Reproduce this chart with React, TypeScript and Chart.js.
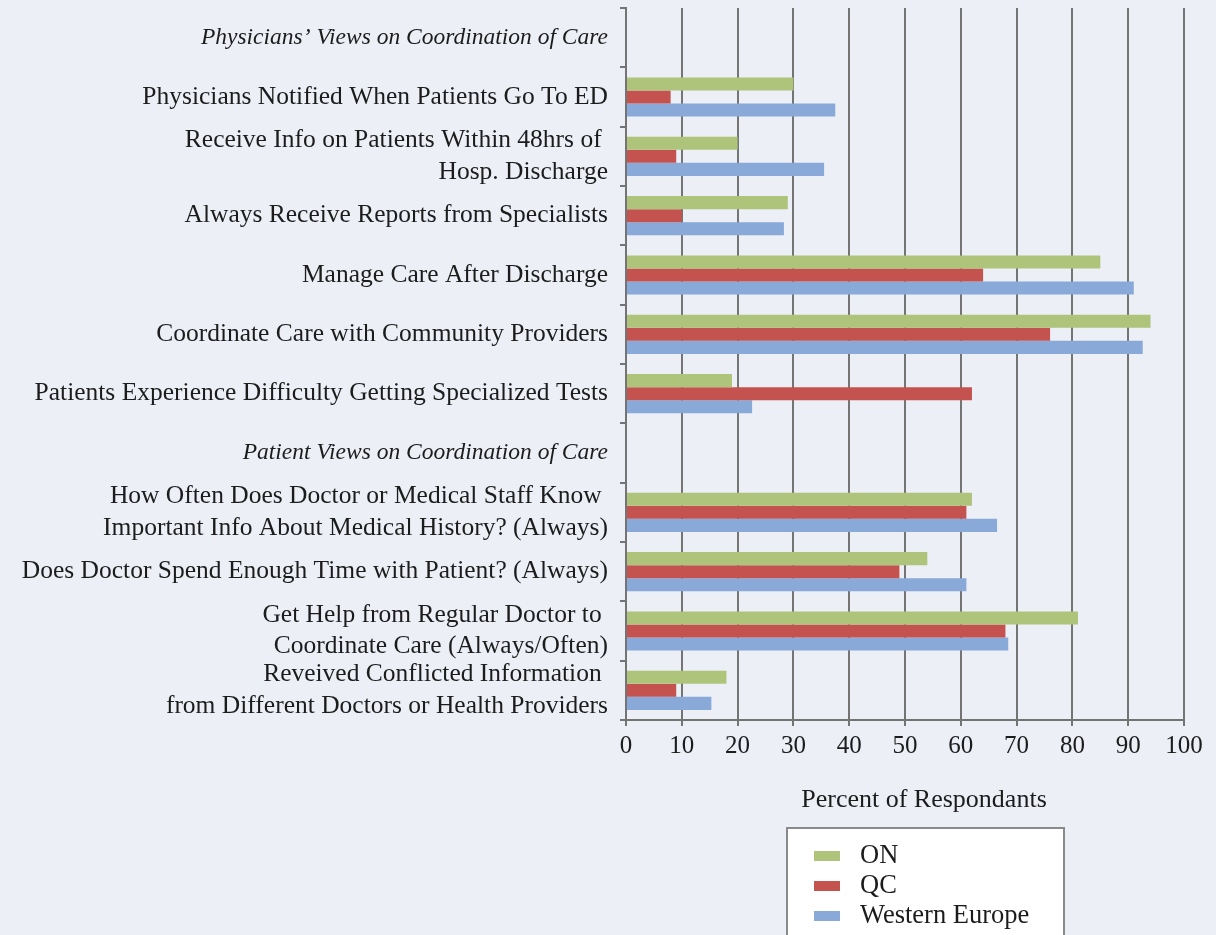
import React, { useEffect, useRef } from "react";
import { Chart, registerables } from "chart.js";

Chart.register(...registerables);

const categories: (string | string[])[] = [
  "Physicians’ Views on Coordination of Care",
  "Physicians Notified When Patients Go To ED",
  ["Receive Info on Patients Within 48hrs of ", "Hosp. Discharge"],
  "Always Receive Reports from Specialists",
  "Manage Care After Discharge",
  "Coordinate Care with Community Providers",
  "Patients Experience Difficulty Getting Specialized Tests",
  "Patient Views on Coordination of Care",
  ["How Often Does Doctor or Medical Staff Know ", "Important Info About Medical History? (Always)"],
  "Does Doctor Spend Enough Time with Patient? (Always)",
  ["Get Help from Regular Doctor to ", "Coordinate Care (Always/Often)"],
  ["Reveived Conflicted Information ", "from Different Doctors or Health Providers"],
];
const headerRows = [0, 7];

const seriesNames = ["ON", "QC", "Western Europe"];
const onValues = [null, 30, 20, 29, 85, 94, 19, null, 62, 54, 81, 18];
const qcValues = [null, 8, 9, 10, 64, 76, 62, null, 61, 49, 68, 9];
const weValues = [null, 37.5, 35.5, 28.3, 91, 92.6, 22.6, null, 66.5, 61, 68.5, 15.3];
const seriesColors = ["#aec47a", "#c4534f", "#89a9d8"];

const xMin = 0;
const xMax = 100;
const xStep = 10;
const axisTitle = "Percent of Respondants";

const FONT = "'Liberation Serif', 'DejaVu Serif', serif";
const TEXT = "#1c1c1c";
const GRID = "#747474";
const BG = "#eceff6";

const overlayPlugin = {
  id: "overlay",
  afterDraw(chart: any) {
    const ctx = chart.ctx;
    ctx.save();
    // axis title
    ctx.fillStyle = TEXT;
    ctx.font = `26px ${FONT}`;
    ctx.textAlign = "center";
    ctx.textBaseline = "middle";
    ctx.fillText(axisTitle, 924, 800);
    // legend box
    ctx.fillStyle = "#ffffff";
    ctx.fillRect(787, 828, 277, 120);
    ctx.strokeStyle = "#8a8a8a";
    ctx.lineWidth = 2;
    ctx.strokeRect(787, 828, 277, 120);
    const rowsY = [856, 886, 916];
    chart.data.datasets.forEach((ds: any, i: number) => {
      ctx.fillStyle = ds.backgroundColor;
      ctx.fillRect(814, rowsY[i] - 5, 26, 10);
      ctx.fillStyle = TEXT;
      ctx.textAlign = "left";
      ctx.textBaseline = "middle";
      ctx.font = `26.5px ${FONT}`;
      ctx.fillText(ds.label, 860, rowsY[i]);
    });
    ctx.restore();
  },
};

export default function App() {
  const ref = useRef<HTMLCanvasElement | null>(null);
  useEffect(() => {
    if (!ref.current) return;
    const values = [onValues, qcValues, weValues];
    const chart = new Chart(ref.current, {
      type: "bar",
      data: {
        labels: categories,
        datasets: values.map((v, i) => ({
          label: seriesNames[i],
          data: v,
          backgroundColor: seriesColors[i],
          borderWidth: 0,
          barPercentage: 1,
          categoryPercentage: 0.66,
        })),
      },
      options: {
        indexAxis: "y",
        animation: false,
        responsive: false,
        devicePixelRatio: 1,
        layout: { padding: { top: 8, right: 32, left: 0, bottom: 0 } },
        plugins: {
          legend: { display: false },
          tooltip: { enabled: false },
        },
        scales: {
          x: {
            min: xMin,
            max: xMax,
            ticks: {
              stepSize: xStep,
              color: TEXT,
              font: { family: FONT, size: 25 },
              padding: 5,
              maxRotation: 0,
            },
            grid: {
              color: GRID,
              lineWidth: 2,
              drawTicks: true,
              tickLength: 6,
            },
            border: { display: true, color: GRID, width: 2 },
            afterFit: (scale: any) => {
              scale.height = 215;
            },
          },
          y: {
            ticks: {
              color: TEXT,
              padding: 12,
              autoSkip: false,
              font: (c: any) =>
                headerRows.includes(c.index)
                  ? { family: FONT, size: 23.5, style: "italic", lineHeight: 1.3 }
                  : { family: FONT, size: 25.5, lineHeight: 1.22 },
            },
            grid: {
              color: GRID,
              lineWidth: 2,
              drawOnChartArea: false,
              drawTicks: true,
              tickLength: 6,
              offset: true,
            },
            border: { display: true, color: GRID, width: 2 },
            afterFit: (scale: any) => {
              scale.width = 626;
              scale.paddingTop = 0;
              scale.paddingBottom = 0;
            },
          },
        },
      },
      plugins: [overlayPlugin],
    });
    return () => chart.destroy();
  }, []);

  return (
    <div
      style={{
        position: "fixed",
        left: 0,
        top: 0,
        width: 1216,
        height: 935,
        background: BG,
        overflow: "hidden",
      }}
    >
      <canvas ref={ref} width={1216} height={935} style={{ display: "block" }} />
    </div>
  );
}
